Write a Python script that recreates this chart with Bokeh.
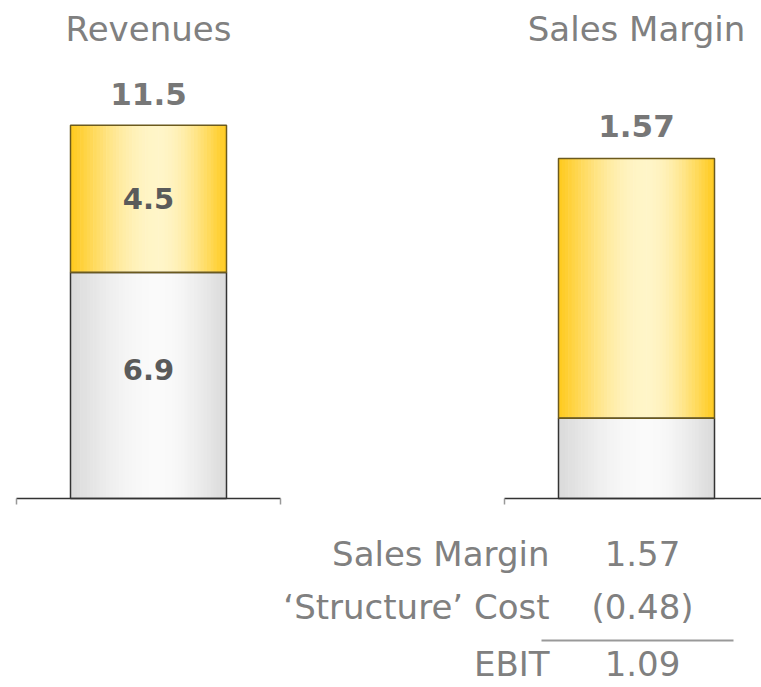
import numpy as np
from bokeh.plotting import figure
from bokeh.models import Range1d, ColumnDataSource
from bokeh.embed import file_html
from bokeh.resources import INLINE
from bokeh.core.properties import value

# ---------------- data ----------------
panel_titles = ["Revenues", "Sales Margin"]

revenue_segments = [6.9, 4.5]          # bottom (grey), top (yellow)
revenue_total = 11.5
revenue_segment_labels = ["6.9", "4.5"]

margin_segments = [0.37, 1.20]         # bottom (grey), top (yellow)
margin_total = 1.57

table_labels = ["Sales Margin", "\u2018Structure\u2019 Cost", "EBIT"]
table_values = [1.57, -0.48, 1.09]

# ---------------- layout constants ----------------
W, H = 761, 687
BASE = 189                 # baseline height in px from bottom
K_REV = 32.75              # px per unit (revenues)
K_SM = 216.6               # px per unit (sales margin)
BAR_W = 156
CENTERS = [148, 636]
FONT = "DejaVu Sans"

p = figure(width=W, height=H, x_range=Range1d(0, W), y_range=Range1d(0, H),
           output_backend="svg", toolbar_location=None, min_border=0,
           x_axis_location=None, y_axis_location=None)
p.grid.visible = False
p.outline_line_color = None

p.extra_y_ranges = {
    "rev": Range1d(-BASE / K_REV, (H - BASE) / K_REV),
    "sm": Range1d(-BASE / K_SM, (H - BASE) / K_SM),
}

YELLOW_EDGE = np.array([255, 202, 30])
YELLOW_MID = np.array([255, 245, 200])
GREY_EDGE = np.array([218, 218, 218])
GREY_MID = np.array([250, 250, 250])


def grad_colors(edge, mid, n, peak=0.56):
    cols = []
    for i in range(n):
        t = (i + 0.5) / n
        d = abs(t - peak) / (peak if t < peak else 1 - peak)
        s = np.cos(np.clip(d, 0, 1) * np.pi / 2) ** 1.1
        c = edge + (mid - edge) * s
        cols.append("#%02x%02x%02x" % tuple(int(round(v)) for v in c))
    return cols


def draw_stack(center, segments, rng, kinds):
    N = 48
    bottom = 0.0
    bounds = []
    for val, kind in zip(segments, kinds):
        top = bottom + val
        edge, mid = (GREY_EDGE, GREY_MID) if kind == "grey" else (YELLOW_EDGE, YELLOW_MID)
        cols = grad_colors(edge, mid, N)
        sw = BAR_W / N
        lefts = [center - BAR_W / 2 + i * sw for i in range(N)]
        rights = [l + sw + 0.6 for l in lefts]
        rights[-1] = center + BAR_W / 2
        src = ColumnDataSource(dict(left=lefts, right=rights,
                                    bottom=[bottom] * N, top=[top] * N, color=cols))
        p.quad(left="left", right="right", bottom="bottom", top="top",
               fill_color="color", line_color=None, source=src, y_range_name=rng)
        bounds.append((bottom, top, kind))
        bottom = top
    for b, t, kind in bounds:
        p.quad(left=center - BAR_W / 2, right=center + BAR_W / 2, bottom=b, top=t,
               fill_color=None,
               line_color="#333333" if kind == "grey" else "#6b5a1e",
               line_width=1.5, y_range_name=rng)
    return bottom


rev_top = draw_stack(CENTERS[0], revenue_segments, "rev", ["grey", "yellow"])
sm_top = draw_stack(CENTERS[1], margin_segments, "sm", ["grey", "yellow"])

# baselines
p.segment(x0=[16, 504], x1=[280, W], y0=[BASE, BASE], y1=[BASE, BASE],
          line_color="#333333", line_width=1.5)
p.segment(x0=[16, 280, 504], x1=[16, 280, 504], y0=[BASE] * 3, y1=[BASE - 6] * 3,
          line_color="#999999", line_width=1.5)

# titles
p.text(x=CENTERS, y=[659, 659], text=panel_titles, text_align="center",
       text_baseline="middle", text_font=value(FONT), text_font_size="34px",
       text_color="#808080")

# totals
p.text(x=[CENTERS[0]], y=[rev_top], text=["%.1f" % revenue_total], y_offset=-31,
       text_align="center", text_baseline="middle", text_font=value(FONT),
       text_font_size="31px", text_font_style="bold", text_color="#777777",
       y_range_name="rev")
p.text(x=[CENTERS[1]], y=[sm_top], text=["%.2f" % margin_total], y_offset=-32,
       text_align="center", text_baseline="middle", text_font=value(FONT),
       text_font_size="31px", text_font_style="bold", text_color="#777777",
       y_range_name="sm")

# segment labels
mids = []
b = 0.0
for v in revenue_segments:
    mids.append(b + v / 2)
    b += v
p.text(x=[CENTERS[0]] * 2, y=mids, text=revenue_segment_labels, y_offset=[-16, 0],
       text_align="center", text_baseline="middle", text_font=value(FONT),
       text_font_size="29px", text_font_style="bold", text_color="#5a5a5a",
       y_range_name="rev")

# table
def fmt(v):
    return "(%.2f)" % abs(v) if v < 0 else "%.2f" % v

row_y = [134, 81, 24]
p.text(x=[549] * 3, y=row_y, text=table_labels, text_align="right",
       text_baseline="middle", text_font=value(FONT), text_font_size="34px",
       text_color="#808080")
p.text(x=[642] * 3, y=row_y, text=[fmt(v) for v in table_values], text_align="center",
       text_baseline="middle", text_font=value(FONT), text_font_size="34px",
       text_color="#808080")
p.segment(x0=[541], x1=[733], y0=[47], y1=[47], line_color="#999999", line_width=2)

open("out.html", "w").write(file_html(p, INLINE))
